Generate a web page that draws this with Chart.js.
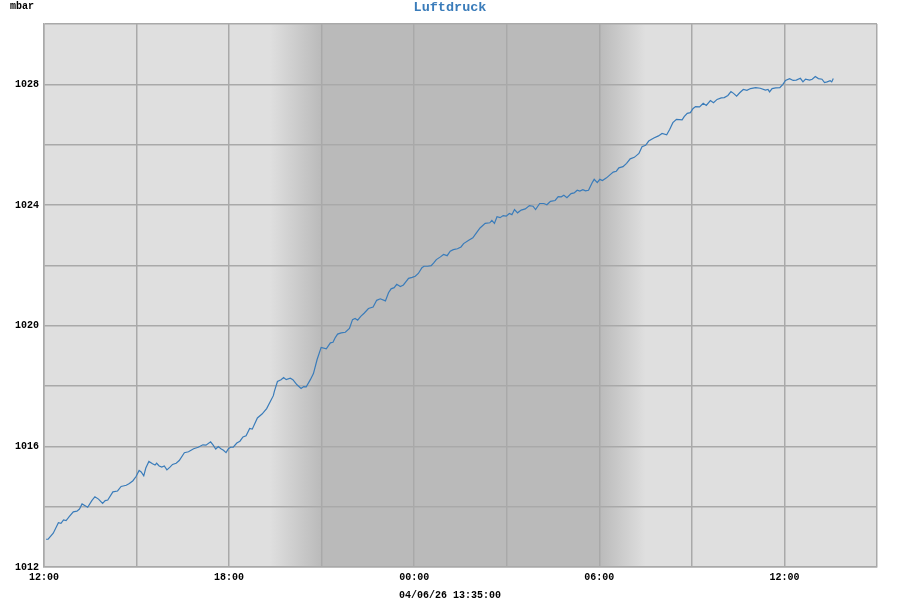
<!DOCTYPE html>
<html>
<head>
<meta charset="utf-8">
<script src="https://cdn.jsdelivr.net/npm/chart.js@4.4.1/dist/chart.umd.min.js"></script>
<style>
    html, body { margin: 0; padding: 0; background: #fff; }
</style>
</head>
<body>
<canvas id="pressureChart" width="900" height="600"></canvas>
<script>
// minutes after 12:00 on the first day
const minutes = [
    4, 8, 18, 28, 33, 38, 43, 49, 57, 64, 69, 74, 80, 85, 93, 99, 106, 114, 119, 124,
    134, 143, 150, 160, 166, 173, 179, 185, 189, 194, 198, 204, 211, 216, 219, 224, 229, 234, 239, 245,
    250, 257, 263, 273, 281, 291, 300, 309, 315, 324, 329, 334, 339, 344, 349, 354, 359, 363, 368, 375,
    381, 387, 393, 400, 405, 415, 424, 433, 446, 448, 454, 461, 466, 471, 479, 484, 492, 500, 505, 510,
    518, 524, 531, 539, 549, 557, 562, 566, 571, 578, 586, 594, 600, 605, 610, 616, 623, 631, 640, 647,
    654, 664, 670, 675, 681, 686, 693, 699, 704, 709, 716, 722, 728, 735, 739, 746, 753, 758, 763, 771,
    777, 784, 790, 796, 804, 811, 816, 826, 834, 842, 848, 858, 867, 871, 876, 881, 887, 893, 899, 905,
    910, 915, 921, 928, 936, 944, 951, 956, 964, 972, 978, 985, 994, 1000, 1006, 1011, 1017, 1025, 1031, 1037,
    1042, 1048, 1053, 1059, 1066, 1070, 1076, 1081, 1086, 1094, 1100, 1107, 1113, 1118, 1126, 1133, 1140, 1148, 1157, 1163,
    1170, 1176, 1186, 1195, 1202, 1211, 1217, 1223, 1230, 1241, 1245, 1251, 1257, 1262, 1267, 1275, 1282, 1288, 1296, 1302,
    1309, 1317, 1323, 1330, 1336, 1341, 1347, 1353, 1360, 1367, 1374, 1384, 1393, 1403, 1408, 1411, 1416, 1423, 1431, 1437,
    1442, 1450, 1457, 1463, 1471, 1476, 1481, 1489, 1494, 1500, 1506, 1513, 1518, 1523, 1529, 1532, 1535
];

const mbar = [
    1012.92, 1012.92, 1013.12, 1013.47, 1013.45, 1013.56, 1013.54, 1013.67, 1013.83, 1013.85,
    1013.92, 1014.09, 1014.03, 1013.98, 1014.20, 1014.33, 1014.25, 1014.11, 1014.20, 1014.22,
    1014.49, 1014.52, 1014.67, 1014.71, 1014.77, 1014.86, 1015.00, 1015.20, 1015.15, 1015.02,
    1015.28, 1015.50, 1015.42, 1015.38, 1015.44, 1015.35, 1015.31, 1015.35, 1015.22, 1015.31,
    1015.40, 1015.44, 1015.53, 1015.79, 1015.82, 1015.92, 1015.97, 1016.05, 1016.04, 1016.15,
    1016.04, 1015.91, 1015.99, 1015.92, 1015.87, 1015.79, 1015.93, 1015.97, 1015.97, 1016.11,
    1016.17, 1016.31, 1016.35, 1016.59, 1016.57, 1016.94, 1017.07, 1017.25, 1017.68, 1017.82,
    1018.15, 1018.21, 1018.28, 1018.21, 1018.26, 1018.21, 1018.04, 1017.92, 1017.98, 1017.97,
    1018.21, 1018.41, 1018.87, 1019.28, 1019.23, 1019.43, 1019.45, 1019.59, 1019.72, 1019.76,
    1019.78, 1019.91, 1020.20, 1020.24, 1020.18, 1020.31, 1020.42, 1020.57, 1020.62, 1020.84,
    1020.89, 1020.82, 1021.09, 1021.22, 1021.26, 1021.37, 1021.30, 1021.35, 1021.46, 1021.57,
    1021.60, 1021.64, 1021.73, 1021.92, 1021.97, 1021.97, 1021.99, 1022.08, 1022.19, 1022.28,
    1022.36, 1022.32, 1022.47, 1022.52, 1022.55, 1022.61, 1022.72, 1022.83, 1022.91, 1023.10,
    1023.24, 1023.39, 1023.41, 1023.49, 1023.39, 1023.61, 1023.58, 1023.65, 1023.63, 1023.72,
    1023.68, 1023.85, 1023.74, 1023.83, 1023.87, 1023.98, 1023.96, 1023.85, 1024.05, 1024.05,
    1024.01, 1024.12, 1024.15, 1024.28, 1024.27, 1024.32, 1024.24, 1024.38, 1024.40, 1024.49,
    1024.46, 1024.51, 1024.47, 1024.49, 1024.74, 1024.85, 1024.74, 1024.85, 1024.81, 1024.90,
    1024.99, 1025.09, 1025.12, 1025.23, 1025.27, 1025.38, 1025.53, 1025.58, 1025.71, 1025.93,
    1025.98, 1026.12, 1026.22, 1026.29, 1026.37, 1026.33, 1026.51, 1026.73, 1026.84, 1026.82,
    1026.93, 1027.04, 1027.06, 1027.19, 1027.26, 1027.25, 1027.37, 1027.30, 1027.46, 1027.39,
    1027.50, 1027.55, 1027.56, 1027.63, 1027.76, 1027.70, 1027.61, 1027.72, 1027.83, 1027.80,
    1027.86, 1027.89, 1027.87, 1027.81, 1027.83, 1027.75, 1027.86, 1027.88, 1027.89, 1028.00,
    1028.13, 1028.19, 1028.13, 1028.14, 1028.20, 1028.08, 1028.17, 1028.14, 1028.17, 1028.26,
    1028.19, 1028.17, 1028.06, 1028.08, 1028.12, 1028.08, 1028.19
];

// x tick labels, one every 6 hours starting at 12:00
const timeLabels = ["12:00", "18:00", "00:00", "06:00", "12:00"];

// night shading in hours after 12:00 (dusk fade, full night, dawn fade)
const duskStart = 7.33;
const nightStart = 9;
const nightEnd = 18;
const dawnEnd = 19.5;

const titleText = "Luftdruck";
const unitText = "mbar";
const stampText = "04/06/26 13:35:00";

const fontFamily = "'Liberation Mono', 'Courier New', monospace";
const lineColor = "#3a7cba";
const dayColor = "#dfdfdf";
const nightColor = "#bababa";
const gridColor = "#a9a9a9";

const points = minutes.map((m, i) => ({ x: m / 60, y: mbar[i] }));

// day/night background behind the grid, plus the texts around the plot
const nightShade = {
    id: "nightShade",
    beforeDraw(chart) {
        const { ctx, chartArea: a, scales } = chart;
        const px = (h) => scales.x.getPixelForValue(h);
        const h = a.bottom - a.top;
        ctx.save();
        ctx.fillStyle = dayColor;
        ctx.fillRect(a.left, a.top, a.right - a.left, h);

        let g = ctx.createLinearGradient(px(duskStart), 0, px(nightStart), 0);
        g.addColorStop(0, dayColor);
        g.addColorStop(1, nightColor);
        ctx.fillStyle = g;
        ctx.fillRect(px(duskStart), a.top, px(nightStart) - px(duskStart), h);

        ctx.fillStyle = nightColor;
        ctx.fillRect(px(nightStart), a.top, px(nightEnd) - px(nightStart), h);

        g = ctx.createLinearGradient(px(nightEnd), 0, px(dawnEnd), 0);
        g.addColorStop(0, nightColor);
        g.addColorStop(1, dayColor);
        ctx.fillStyle = g;
        ctx.fillRect(px(nightEnd), a.top, px(dawnEnd) - px(nightEnd), h);
        ctx.restore();
    },
    afterDraw(chart) {
        const { ctx, width, height } = chart;
        ctx.save();
        ctx.textBaseline = "middle";

        ctx.font = "bold 13.5px " + fontFamily;
        ctx.fillStyle = lineColor;
        ctx.textAlign = "center";
        ctx.fillText(titleText, width / 2, 7.5);

        ctx.font = "bold 10px " + fontFamily;
        ctx.fillStyle = "#000";
        ctx.fillText(stampText, width / 2, 595);

        ctx.textAlign = "left";
        ctx.fillText(unitText, 10, 6.5);
        ctx.restore();
    },
};

const ctx = document.getElementById("pressureChart").getContext("2d");
new Chart(ctx, {
    type: "line",
    data: {
        datasets: [
            {
                label: titleText,
                data: points,
                borderColor: lineColor,
                borderWidth: 1.2,
                pointRadius: 0,
                tension: 0,
                fill: false,
            },
        ],
    },
    options: {
        responsive: false,
        animation: false,
        devicePixelRatio: 1,
        layout: {
            padding: { top: 24, right: 23, bottom: 12, left: 0 },
        },
        plugins: {
            legend: { display: false },
            tooltip: { enabled: false },
        },
        scales: {
            x: {
                type: "linear",
                min: 0,
                max: 27,
                afterFit: (s) => { s.height = 21; },
                border: { color: gridColor, width: 1.5 },
                grid: { color: gridColor, lineWidth: 1.5, drawTicks: false },
                ticks: {
                    stepSize: 3,
                    padding: 4,
                    maxRotation: 0,
                    autoSkip: false,
                    color: "#000",
                    font: { family: fontFamily, size: 10, weight: "bold" },
                    callback: (v) => (v % 6 === 0 ? timeLabels[v / 6] : ""),
                },
            },
            y: {
                min: 1012,
                max: 1030,
                afterFit: (s) => { s.width = 44; },
                border: { color: gridColor, width: 1.5 },
                grid: { color: gridColor, lineWidth: 1.5, drawTicks: false },
                ticks: {
                    stepSize: 2,
                    padding: 5,
                    autoSkip: false,
                    color: "#000",
                    font: { family: fontFamily, size: 10, weight: "bold" },
                    callback: (v) => (v % 4 === 0 ? v : ""),
                },
            },
        },
    },
    plugins: [nightShade],
});
</script>
</body>
</html>
